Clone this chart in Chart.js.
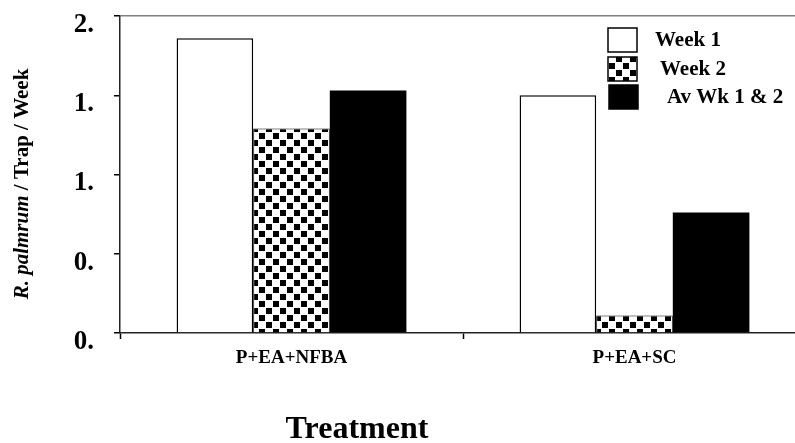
<!DOCTYPE html>
<html>
<head>
<meta charset="utf-8">
<script src="https://cdn.jsdelivr.net/npm/chart.js@4/dist/chart.umd.min.js"></script>
<style>
  html, body { margin: 0; padding: 0; background: #fff; overflow: hidden; }
  #wrap { width: 820px; height: 443px; }
</style>
</head>
<body>
<div id="wrap"><canvas id="myChart" width="820" height="443"></canvas></div>
<script>
// data
var treatments = ['P+EA+NFBA', 'P+EA+SC'];
var week1 = [1.86, 1.50];
var week2 = [1.29, 0.11];
var avWk = [1.53, 0.76];
var seriesNames = ['Week 1', 'Week 2', 'Av Wk 1 & 2'];
var yTickValues = [0, 0.5, 1, 1.5, 2];
var yTickLabels = ['0.', '0.', '1.', '1.', '2.'];

var serif = "'Liberation Serif', 'Times New Roman', serif";

function checker() {
    var c = document.createElement('canvas');
    c.width = 14;
    c.height = 14;
    var g = c.getContext('2d');
    g.fillStyle = '#fff';
    g.fillRect(0, 0, 14, 14);
    g.fillStyle = '#000';
    g.fillRect(0, 0, 6, 6);
    g.fillRect(7, 7, 6, 6);
    return g.createPattern(c, 'repeat');
}
var checkPattern = checker();

// draws the legend box, the y title (mixed italic) and the x title
var extras = {
    id: 'extras',
    afterDraw: function(chart) {
        var ctx = chart.ctx;
        ctx.save();

        // legend
        var boxX = [608, 608, 609];
        var boxY = [28, 57, 85];
        var textX = [655, 660, 667];
        chart.data.datasets.forEach(function(ds, i) {
            ctx.fillStyle = ds.backgroundColor;
            ctx.fillRect(boxX[i], boxY[i], 29, 24);
            ctx.strokeStyle = '#000';
            ctx.lineWidth = 1.5;
            ctx.strokeRect(boxX[i], boxY[i], 29, 24);
            ctx.fillStyle = '#000';
            ctx.font = 'bold 21px ' + serif;
            ctx.textAlign = 'left';
            ctx.textBaseline = 'middle';
            ctx.fillText(ds.label, textX[i], boxY[i] + 13);
        });

        // y axis title
        ctx.translate(23, 184);
        ctx.rotate(-Math.PI / 2);
        ctx.textBaseline = 'middle';
        var p1 = 'R. palmrum';
        var p2 = ' / Trap / Week';
        ctx.font = 'italic bold 21px ' + serif;
        var w1 = ctx.measureText(p1).width;
        ctx.font = 'bold 21px ' + serif;
        var w2 = ctx.measureText(p2).width;
        var x0 = -(w1 + w2) / 2;
        ctx.textAlign = 'left';
        ctx.font = 'italic bold 21px ' + serif;
        ctx.fillText(p1, x0, 0);
        ctx.font = 'bold 21px ' + serif;
        ctx.fillText(p2, x0 + w1, 0);
        ctx.restore();

        // x axis title
        ctx.save();
        ctx.fillStyle = '#000';
        ctx.font = 'bold 32px ' + serif;
        ctx.textAlign = 'center';
        ctx.textBaseline = 'middle';
        ctx.fillText('Treatment', 357, 430);
        ctx.restore();
    }
};

const ctx = document.getElementById('myChart');
new Chart(ctx, {
    type: 'bar',
    plugins: [extras],
    data: {
        labels: treatments,
        datasets: [{
            label: seriesNames[0],
            data: week1,
            backgroundColor: '#ffffff',
            borderColor: '#000000',
            borderWidth: 1.5
        }, {
            label: seriesNames[1],
            data: week2,
            backgroundColor: checkPattern,
            borderColor: '#000000',
            borderWidth: 1
        }, {
            label: seriesNames[2],
            data: avWk,
            backgroundColor: '#000000',
            borderWidth: 0
        }]
    },
    options: {
        responsive: false,
        animation: false,
        layout: {
            padding: { top: 16, right: 14, left: 0, bottom: 0 }
        },
        categoryPercentage: 0.67,
        barPercentage: 1.0,
        plugins: {
            legend: { display: false },
            tooltip: { enabled: false }
        },
        scales: {
            x: {
                grid: {
                    drawOnChartArea: false,
                    tickLength: 6,
                    tickColor: '#000',
                    tickWidth: 1.5
                },
                border: { color: '#222', width: 1.5 },
                ticks: {
                    color: '#000',
                    padding: 8,
                    font: { family: serif, size: 19, weight: 'bold' }
                },
                afterFit: function(s) { s.height = 110; }
            },
            y: {
                min: 0,
                max: 2,
                afterBuildTicks: function(s) {
                    s.ticks = yTickValues.map(function(v) { return { value: v }; });
                },
                grid: {
                    color: function(c) { return c.tick && c.tick.value === 2 ? '#808080' : 'rgba(0,0,0,0)'; },
                    lineWidth: 1.5,
                    tickLength: 6,
                    tickColor: '#000'
                },
                border: { color: '#222', width: 1.5 },
                ticks: {
                    color: '#000',
                    padding: 20,
                    labelOffset: 9,
                    font: { family: serif, size: 27, weight: 'bold' },
                    callback: function(v) {
                        var i = yTickValues.indexOf(v);
                        return i >= 0 ? yTickLabels[i] : '';
                    }
                },
                afterFit: function(s) {
                    s.width = 120;
                    s.paddingTop = 0;
                    s.paddingBottom = 0;
                }
            }
        }
    }
});
</script>
</body>
</html>
